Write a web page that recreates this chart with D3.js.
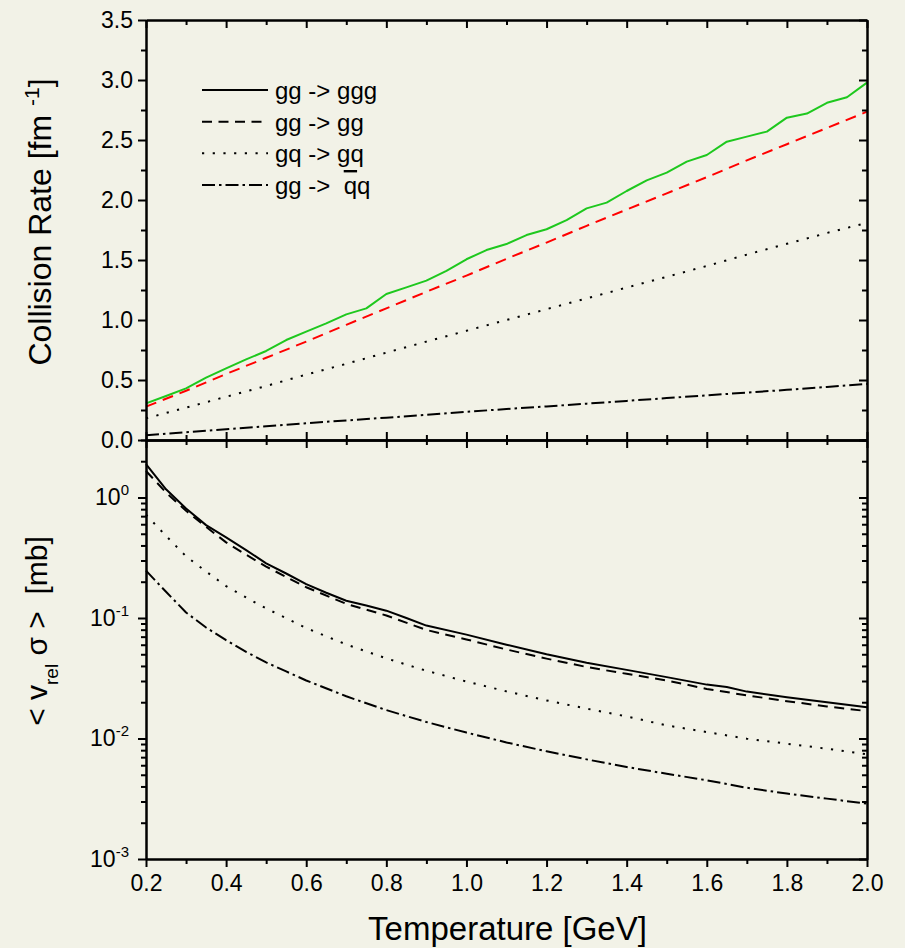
<!DOCTYPE html>
<html><head><meta charset="utf-8">
<script src="https://cdn.jsdelivr.net/npm/d3@7"></script>
<style>
body{margin:0;background:#f2f2e7;}
svg{display:block;}
text{font-family:"Liberation Sans",Arial,sans-serif;}
</style>
</head><body>
<svg id="c" width="905" height="948"></svg>
<script>
// ---------- data ----------
const tempFine = [0.2,0.25,0.3,0.35,0.4,0.45,0.5,0.55,0.6,0.65,0.7,0.75,0.8,0.85,0.9,0.95,1.0,1.05,1.1,1.15,1.2,1.25,1.3,1.35,1.4,1.45,1.5,1.55,1.6,1.65,1.7,1.75,1.8,1.85,1.9,1.95,2.0];
const rateGGG = [0.305,0.367,0.43,0.52,0.597,0.672,0.742,0.833,0.903,0.972,1.047,1.097,1.217,1.272,1.328,1.41,1.506,1.583,1.633,1.708,1.756,1.833,1.93,1.978,2.075,2.163,2.228,2.32,2.375,2.486,2.528,2.57,2.686,2.72,2.81,2.856,2.978];
const tempCoarse = [0.2,0.3,0.4,0.5,0.6,0.7,0.8,0.9,1.0,1.1,1.2,1.3,1.4,1.5,1.6,1.7,1.8,1.9,2.0];
const rateGG = [0.278,0.41,0.55,0.685,0.82,0.96,1.097,1.235,1.37,1.51,1.645,1.785,1.92,2.055,2.19,2.33,2.465,2.60,2.736];
const rateGQ = [0.18,0.27,0.36,0.45,0.545,0.635,0.728,0.82,0.91,1.00,1.09,1.18,1.27,1.36,1.45,1.545,1.635,1.725,1.81];
const rateQQ = [0.04,0.065,0.09,0.115,0.14,0.163,0.186,0.21,0.235,0.258,0.28,0.303,0.326,0.349,0.372,0.395,0.418,0.442,0.467];

const sigTempGGG = [0.2,0.25,0.3,0.35,0.4,0.45,0.5,0.55,0.6,0.65,0.7,0.75,0.8,0.85,0.9,1.0,1.1,1.2,1.3,1.4,1.5,1.6,1.65,1.7,1.8,1.9,2.0];
const sigGGG = [1.89,1.17,0.81,0.59,0.466,0.366,0.284,0.234,0.191,0.162,0.139,0.127,0.115,0.1,0.0865,0.0728,0.06,0.0501,0.0426,0.0371,0.0323,0.028,0.0268,0.0245,0.022,0.02,0.0182];
const sigTempGG = [0.2,0.25,0.3,0.35,0.4,0.45,0.5,0.55,0.6,0.7,0.8,0.9,1.0,1.1,1.2,1.3,1.4,1.5,1.6,1.7,1.8,1.9,2.0];
const sigGG = [1.66,1.1,0.776,0.57,0.424,0.335,0.267,0.219,0.18,0.131,0.105,0.0796,0.0664,0.0548,0.046,0.0392,0.0344,0.0303,0.0258,0.0228,0.0204,0.01845,0.01687];
const sigTempGQ = [0.2,0.25,0.3,0.35,0.4,0.45,0.5,0.6,0.7,0.8,0.9,1.0,1.1,1.2,1.3,1.4,1.5,1.6,1.7,1.8,1.9,2.0];
const sigGQ = [0.72,0.48,0.325,0.243,0.184,0.148,0.12,0.0825,0.0603,0.0462,0.0365,0.0297,0.0246,0.0207,0.0177,0.01524,0.01285,0.0113,0.00996,0.00905,0.00823,0.0074];
const sigTempQQ = [0.2,0.25,0.3,0.35,0.4,0.45,0.5,0.55,0.6,0.7,0.8,0.9,1.0,1.1,1.2,1.3,1.4,1.5,1.6,1.7,1.8,1.9,2.0];
const sigQQ = [0.247,0.165,0.111,0.0834,0.0654,0.0524,0.0428,0.036,0.0303,0.0224,0.0172,0.0137,0.0112,0.00927,0.00783,0.00671,0.0058,0.0051,0.0045,0.0039,0.00349,0.00317,0.00288];

const xMajor = [0.2,0.4,0.6,0.8,1.0,1.2,1.4,1.6,1.8,2.0];
const xMinor = [0.3,0.5,0.7,0.9,1.1,1.3,1.5,1.7,1.9];
const yTopMajor = [0,0.5,1.0,1.5,2.0,2.5,3.0,3.5];
const yTopMinor = [0.25,0.75,1.25,1.75,2.25,2.75,3.25];
const yBotExp = [-3,-2,-1,0];
const yBotMinorMant = [2,3,4,5,6,7,8,9];

const legendLabels = ["gg -> ggg","gg -> gg","gq -> gq","gg ->  "];

// ---------- setup ----------
const FONT = '"Liberation Sans", Arial, sans-serif';
const svg = d3.select("#c");
svg.append("rect").attr("width",905).attr("height",948).attr("fill","#f2f2e7");

const L = 146, R = 867, T = 20, M = 440, B = 859;
const x = d3.scaleLinear().domain([0.2,2.0]).range([L,R]);
const yTop = d3.scaleLinear().domain([0,3.5]).range([M,T]);
const yBot = d3.scaleLog().domain([1e-3,3]).range([B,M]);

const yBotMajor = yBotExp.map(e => Math.pow(10,e));
const yBotMinor = [];
yBotExp.forEach(e => yBotMinorMant.forEach(m => { const v = m*Math.pow(10,e); if (v <= 3) yBotMinor.push(v); }));

function drawAxis(gen, tx, ty, size, values, fmt) {
  const g = svg.append("g").attr("transform",`translate(${tx},${ty})`)
    .call(gen.tickValues(values).tickSize(size).tickSizeOuter(0).tickFormat(fmt || (() => "")));
  g.attr("font-size",23).attr("font-family",FONT);
  g.select(".domain").attr("stroke","#000").attr("stroke-width",2);
  g.selectAll(".tick line").attr("stroke","#000").attr("stroke-width",2);
  g.selectAll(".tick text").attr("fill","#000");
  return g;
}

// ---------- curves ----------
function curve(xs, ys, yScale, color, dash) {
  const line = d3.line().x(d => x(d[0])).y(d => yScale(d[1]));
  svg.append("path").datum(d3.zip(xs, ys))
    .attr("d", line).attr("fill","none").attr("stroke",color)
    .attr("stroke-width",2).attr("stroke-linecap","butt").attr("stroke-linejoin","round")
    .attr("stroke-dasharray", dash || null);
}
const DASH = "10,6.5", DOT = "2.2,8.5", DASHDOT = "13,4,2.5,4";

curve(tempCoarse, rateQQ, yTop, "#000", DASHDOT);
curve(tempCoarse, rateGQ, yTop, "#000", DOT);
curve(tempCoarse, rateGG, yTop, "#ff0000", "11,7");
curve(tempFine, rateGGG, yTop, "#1ec81e", null);

curve(sigTempQQ, sigQQ, yBot, "#000", DASHDOT);
curve(sigTempGQ, sigGQ, yBot, "#000", DOT);
curve(sigTempGG, sigGG, yBot, "#000", DASH);
curve(sigTempGGG, sigGGG, yBot, "#000", null);

// ---------- axes ----------
const xb = drawAxis(d3.axisBottom(x), 0, B, 8, xMajor, d3.format(".1f"));
xb.selectAll(".tick text").attr("dy","0.71em").attr("y", 16);
drawAxis(d3.axisBottom(x), 0, B, 5, xMinor);
drawAxis(d3.axisBottom(x), 0, T, 8, xMajor);
drawAxis(d3.axisBottom(x), 0, T, 5, xMinor);
drawAxis(d3.axisTop(x), 0, M, 8, xMajor);
drawAxis(d3.axisTop(x), 0, M, 5, xMinor);
drawAxis(d3.axisBottom(x), 0, M, 8, xMajor);
drawAxis(d3.axisBottom(x), 0, M, 5, xMinor);

const yl = drawAxis(d3.axisLeft(yTop), L, 0, 8, yTopMajor, d3.format(".1f"));
yl.selectAll(".tick text").attr("x", -13);
drawAxis(d3.axisLeft(yTop), L, 0, 5, yTopMinor);
drawAxis(d3.axisLeft(yTop), R, 0, 8, yTopMajor);
drawAxis(d3.axisLeft(yTop), R, 0, 5, yTopMinor);

const ylb = drawAxis(d3.axisLeft(yBot), L, 0, 8, yBotMajor);
ylb.selectAll(".tick").each(function(d) {
  const e = Math.round(Math.log10(d));
  const t = d3.select(this).append("text").attr("x",-17).attr("dy","0.32em")
    .attr("text-anchor","end").attr("fill","#000").attr("font-size",23);
  t.append("tspan").text("10");
  t.append("tspan").attr("dy",-10).attr("font-size",15).text(String(e));
});
drawAxis(d3.axisLeft(yBot), L, 0, 5, yBotMinor);
drawAxis(d3.axisLeft(yBot), R, 0, 8, yBotMajor);
drawAxis(d3.axisLeft(yBot), R, 0, 5, yBotMinor);

// ---------- titles ----------
svg.append("text").attr("x", (L+R)/2 + 1).attr("y", 940).attr("text-anchor","middle")
  .attr("font-size",33).attr("fill","#000").text("Temperature [GeV]");

const t1 = svg.append("text").attr("transform","translate(51,222) rotate(-90)")
  .attr("text-anchor","middle").attr("font-size",32).attr("fill","#000")
  .style("white-space","pre");
t1.append("tspan").text("Collision Rate [fm ");
t1.append("tspan").attr("dy",-12).attr("font-size",21).text("-1");
t1.append("tspan").attr("dy",12).text("]");

const t2 = svg.append("text").attr("transform","translate(47,631) rotate(-90)")
  .attr("text-anchor","middle").attr("font-size",30).attr("fill","#000")
  .style("white-space","pre");
t2.append("tspan").text("< v");
t2.append("tspan").attr("dy",11).attr("font-size",19).text("rel");
t2.append("tspan").attr("dy",-11).text(" \u03c3 >  [mb]");

// ---------- legend ----------
const legendDash = [null, DASH, DOT, DASHDOT];
const legY = d3.scaleLinear().domain([0,3]).range([90,185]);
legendLabels.forEach((lab, i) => {
  const yy = legY(i);
  svg.append("line").attr("x1",202).attr("x2",268).attr("y1",yy).attr("y2",yy)
    .attr("stroke","#000").attr("stroke-width",2).attr("stroke-dasharray", legendDash[i]);
  const t = svg.append("text").attr("x",275).attr("y",yy+9).attr("font-size",24)
    .attr("fill","#000").style("white-space","pre");
  t.append("tspan").text(lab);
  if (i === 3) {
    t.append("tspan").attr("text-decoration","overline").style("text-decoration","overline").text("q");
    t.append("tspan").text("q");
  }
});
</script>
</body></html>
